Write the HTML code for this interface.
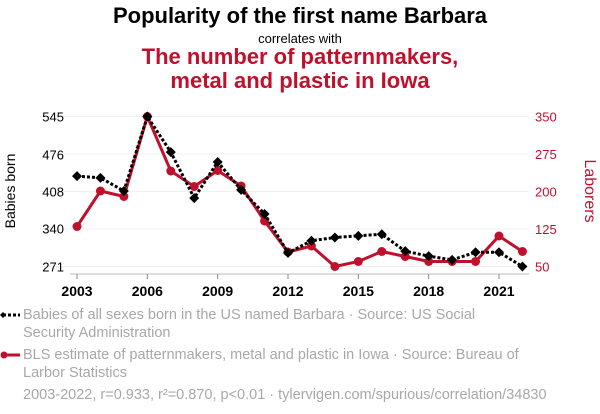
<!DOCTYPE html>
<html><head><meta charset="utf-8"><style>
body{margin:0;width:600px;height:414px;background:#fff;font-family:"Liberation Sans",Arial,sans-serif;overflow:hidden;position:relative}
.t{position:absolute;left:0;width:600px;text-align:center}
.leg{position:absolute;left:23px;color:#a8a8a8;font-size:14.5px;line-height:18px}
</style></head><body>
<div class="t" style="top:3px;font-size:22px;font-weight:bold;color:#000">Popularity of the first name Barbara</div>
<div class="t" style="top:31px;font-size:13px;color:#000">correlates with</div>
<div class="t" style="top:45px;font-size:22px;font-weight:bold;color:#c0112c;line-height:24px">The number of patternmakers,<br>metal and plastic in Iowa</div>
<svg id="ch" width="600" height="300" style="position:absolute;left:0;top:0"></svg>
<div class="leg" style="top:306px">Babies of all sexes born in the US named Barbara · Source: US Social<br>Security Administration</div>
<div class="leg" style="top:346px">BLS estimate of patternmakers, metal and plastic in Iowa · Source: Bureau of<br>Larbor Statistics</div>
<div class="leg" style="top:386px">2003-2022, r=0.933, r²=0.870, p&lt;0.01 · tylervigen.com/spurious/correlation/34830</div>
<svg width="22" height="80" style="position:absolute;left:0;top:305px">
<line x1="3" y1="10" x2="20" y2="10" stroke="#000" stroke-width="3" stroke-dasharray="3,2"/>
<path d="M3 7L6 10L3 13L0 10Z" fill="#000"/>
<line x1="3" y1="50" x2="20" y2="50" stroke="#c0112c" stroke-width="3"/>
<circle cx="4" cy="50" r="3.5" fill="#c0112c"/>
</svg>
<script>
const years=[2003,2004,2005,2006,2007,2008,2009,2010,2011,2012,2013,2014,2015,2016,2017,2018,2019,2020,2021,2022];
const barbara=[436,433,409,545,480,396,462,411,367,296,318,324,327,330,299,290,283,297,297,271];
const laborers=[130,201,190,350,241,210,242,211,141,79,91,50,60,80,70,60,60,60,111,80];
const leftTicks=[271,340,408,476,545];
const rightTicks=[50,125,200,275,350];
const xTicks=[2003,2006,2009,2012,2015,2018,2021];
const NS="http://www.w3.org/2000/svg",svg=document.getElementById('ch');
const X=y=>77+(y-2003)*(499-77)/18;
const YL=v=>266.5-(v-271)*150/274;
const YR=v=>266.5-(v-50)*150/300;
function mk(t,a,p){const e=document.createElementNS(NS,t);for(const k in a)e.setAttribute(k,a[k]);(p||svg).appendChild(e);return e;}
rightTicks.forEach((v,i)=>{
 const g=mk('line',{x1:40,x2:528,y1:YR(v),y2:YR(v),stroke:'#f0f0f0','stroke-width':1});
 
 
 const t=mk('text',{x:535,y:YR(v)+5,fill:'#c0112c','font-size':13});t.textContent=v;
 
 
});
leftTicks.forEach(v=>{
 const t=mk('text',{x:64,y:YL(v)+5,'text-anchor':'end',fill:'#000','font-size':13});t.textContent=v;
 
 
});
const ax=mk('line',{x1:70,x2:529,y1:274,y2:274,stroke:'#bbb','stroke-width':1});


xTicks.forEach(y=>{
 mk('line',{x1:X(y),x2:X(y),y1:274,y2:279,stroke:'#888'});
 const t=mk('text',{x:X(y),y:296,'text-anchor':'middle',fill:'#000','font-size':14,'font-weight':'bold'});t.textContent=y;
 
 
});
const yl=mk('text',{x:15,y:191,transform:'rotate(-90 15 191)','text-anchor':'middle','font-size':14,fill:'#000'});yl.textContent='Babies born';


const yr=mk('text',{x:585,y:191,transform:'rotate(90 585 191)','text-anchor':'middle','font-size':16,fill:'#c0112c'});yr.textContent='Laborers';


const rl=mk('polyline',{points:years.map((y,i)=>X(y)+','+YR(laborers[i])).join(' '),fill:'none',stroke:'#c0112c','stroke-width':3});


years.forEach((y,i)=>{const c=mk('circle',{cx:X(y),cy:YR(laborers[i]),r:4.5,fill:'#c0112c'});
 
 });
const bl=mk('polyline',{points:years.map((y,i)=>X(y)+','+YL(barbara[i])).join(' '),fill:'none',stroke:'#000','stroke-width':3,'stroke-dasharray':'3,2'});


years.forEach((y,i)=>{const x=X(y),v=YL(barbara[i]);const d=mk('path',{d:`M${x} ${v-5}L${x+5} ${v}L${x} ${v+5}L${x-5} ${v}Z`,fill:'#000'});
 
 });
</script>
</body></html>
